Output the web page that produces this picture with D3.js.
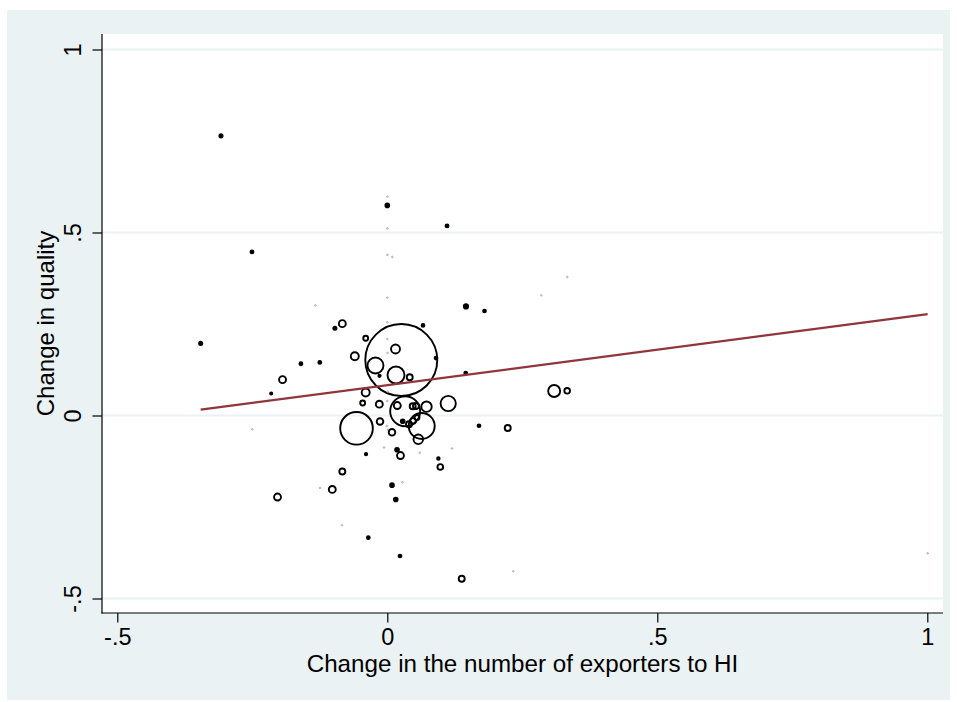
<!DOCTYPE html>
<html>
<head>
<meta charset="utf-8">
<script src="https://cdn.jsdelivr.net/npm/d3@7"></script>
<style>
  html, body { margin: 0; padding: 0; background: #ffffff; }
  svg { display: block; }
  text { font-family: "Liberation Sans", Arial, sans-serif; fill: #000; }
</style>
</head>
<body>
<svg id="chart" width="957" height="702"></svg>
<script>
// ---- data ----
const xValues = [-0.308, -0.2506, -0.3456, -0.160, -0.125, -0.194, -0.215, -0.097, -0.133, -0.250,
  0.000, 0.000, 0.1106, 0.000, 0.000, 0.0093, 0.000, 0.1457, 0.180, 0.000,
  -0.0833, 0.0661, -0.040, 0.000, 0.0259, 0.0152, -0.0602, 0.0004, -0.0219, 0.0161,
  0.0415, -0.0144, 0.0902, 0.1452, -0.040, 0.0007, -0.0456, -0.0148, 0.0331, 0.0185,
  0.047, 0.0531, 0.0726, 0.1128, -0.057, -0.0135, 0.0285, 0.0637, 0.0402, 0.0476,
  0.055, -0.0011, 0.0013, 0.0087, 0.0574, 0.1698, -0.0061, -0.0394, 0.018, 0.0244,
  0.0602, 0.0946, 0.0981, 0.1198, -0.0833, 0.0087, 0.0278, -0.1019, 0.0157, -0.0839,
  -0.0352, 0.0235, 0.1378, 0.2333, 0.2852, 0.3333, 0.309, 0.3331, 0.223, 1.0007,
  -0.2033, -0.1246, 0.000];
const yValues = [0.764, 0.447, 0.197, 0.1415, 0.145, 0.098, 0.060, 0.2385, 0.301, -0.038,
  0.598, 0.574, 0.518, 0.511, 0.439, 0.433, 0.322, 0.298, 0.2855, 0.2546,
  0.251, 0.246, 0.211, 0.209, 0.1516, 0.1817, 0.162, 0.171, 0.1366, 0.1107,
  0.1046, 0.1085, 0.157, 0.116, 0.0628, 0.065, 0.0342, 0.0309, 0.0117, 0.0273,
  0.0251, 0.026, 0.024, 0.0328, -0.035, -0.0164, -0.0156, -0.0287, -0.024, -0.015,
  -0.0055, -0.0287, -0.0388, -0.0459, -0.065, -0.028, -0.0874, -0.1057, -0.0937, -0.1093,
  -0.1019, -0.1175, -0.1407, -0.0902, -0.153, -0.1904, -0.1825, -0.202, -0.2295, -0.300,
  -0.3339, -0.3839, -0.4459, -0.4257, 0.3284, 0.3784, 0.0669, 0.0675, -0.0342, -0.3765,
  -0.2227, -0.198, 0.0396];
const weights = [2.5, 2.3, 2.5, 2.2, 2.2, 12, 1.2, 2.5, 0.5, 0.5,
  0.5, 3.5, 2.2, 0.5, 0.5, 0.5, 0.5, 4.5, 2, 0.5,
  12, 2, 6, 0.5, 1296, 20, 16, 0.5, 64, 72,
  9, 1.4, 2, 2, 16, 0.5, 6, 12, 225, 12,
  9, 9, 27, 58, 266, 11, 3.5, 169, 9, 8,
  6, 0.5, 0.5, 11, 23, 2, 0.5, 1.4, 3.5, 12,
  0.5, 1.6, 8, 0.5, 9, 3.5, 0.7, 12, 3.5, 0.5,
  2, 2, 9, 0.5, 0.7, 0.5, 36, 8, 9, 0.5,
  12, 0.7, 0.5];
const fitIntercept = 0.0829;
const fitSlope = 0.194;
const xTicks = [-0.5, 0, 0.5, 1];
const xTickLabels = ["-.5", "0", ".5", "1"];
const yTicks = [-0.5, 0, 0.5, 1];
const yTickLabels = ["-.5", "0", ".5", "1"];
const xTitle = "Change in the number of exporters to HI";
const yTitle = "Change in quality";

// ---- layout ----
const plot = { left: 102, top: 34, right: 943, bottom: 613 };
const svg = d3.select("#chart");

svg.append("rect").attr("x", 7).attr("y", 10).attr("width", 943).attr("height", 690)
  .attr("fill", "#eaf2f3");
svg.append("rect").attr("x", plot.left).attr("y", plot.top)
  .attr("width", plot.right - plot.left).attr("height", plot.bottom - plot.top)
  .attr("fill", "#ffffff");

const x = d3.scaleLinear().domain([-0.5, 1]).range([117.3, 927.3]);
const y = d3.scaleLinear().domain([-0.5, 1]).range([598.5, 49.5]);
const r = d3.scaleSqrt().domain([0, 1296]).range([0, 36]);

// gridlines
svg.append("g").selectAll("line").data(yTicks).join("line")
  .attr("x1", plot.left).attr("x2", plot.right)
  .attr("y1", d => y(d)).attr("y2", d => y(d))
  .attr("stroke", "#eaf2f3").attr("stroke-width", 1.8);

// points
const pts = xValues.map((v, i) => ({ x: v, y: yValues[i], w: weights[i] }));
svg.append("clipPath").attr("id", "pclip").append("rect")
  .attr("x", plot.left).attr("y", plot.top)
  .attr("width", plot.right - plot.left).attr("height", plot.bottom - plot.top);
svg.append("g").attr("clip-path", "url(#pclip)")
  .selectAll("circle").data(pts).join("circle")
  .attr("cx", d => x(d.x)).attr("cy", d => y(d.y))
  .attr("r", d => d.w < 1 ? 0.8 : r(d.w))
  .attr("fill", d => (d.w >= 1 && r(d.w) < 2.3) ? "#000" : "none")
  .attr("stroke", d => d.w < 1 ? "#9a9a9a" : "#000")
  .attr("stroke-width", d => d.w < 1 ? 0.8 : 1.9);

// fitted line
const xExt = d3.extent(xValues);
svg.append("line")
  .attr("x1", x(xExt[0])).attr("y1", y(fitIntercept + fitSlope * xExt[0]))
  .attr("x2", x(xExt[1])).attr("y2", y(fitIntercept + fitSlope * xExt[1]))
  .attr("stroke", "#90353b").attr("stroke-width", 2.2);

// axes
const xAxis = d3.axisBottom(x).tickValues(xTicks).tickFormat((d, i) => xTickLabels[i])
  .tickSize(9.5).tickSizeOuter(0);
const gx = svg.append("g").attr("transform", `translate(0,${plot.bottom})`).call(xAxis);
gx.select(".domain").remove();
gx.selectAll(".tick line").attr("stroke", "#000").attr("stroke-width", 1.2);
gx.selectAll(".tick text").attr("y", 0).attr("dy", 0)
  .attr("transform", "translate(0,32)")
  .style("font-size", "23.5px").style("font-family", "Liberation Sans, Arial, sans-serif")
  .attr("fill", "#000");

const yAxis = d3.axisLeft(y).tickValues(yTicks).tickFormat((d, i) => yTickLabels[i])
  .tickSize(9.5).tickSizeOuter(0);
const gy = svg.append("g").attr("transform", `translate(${plot.left},0)`).call(yAxis);
gy.select(".domain").remove();
gy.selectAll(".tick line").attr("stroke", "#000").attr("stroke-width", 1.2);
gy.selectAll(".tick text").attr("x", 0).attr("dy", 0)
  .attr("transform", "translate(-21,0) rotate(-90)")
  .attr("text-anchor", "middle")
  .style("font-size", "23.5px").style("font-family", "Liberation Sans, Arial, sans-serif")
  .attr("fill", "#000");

// axis lines
svg.append("line").attr("x1", plot.left).attr("x2", plot.left)
  .attr("y1", plot.top).attr("y2", plot.bottom + 0.6)
  .attr("stroke", "#000").attr("stroke-width", 1.2);
svg.append("line").attr("x1", plot.left - 0.6).attr("x2", plot.right)
  .attr("y1", plot.bottom).attr("y2", plot.bottom)
  .attr("stroke", "#000").attr("stroke-width", 1.2);

// titles
svg.append("text").attr("x", (plot.left + plot.right) / 2).attr("y", 672)
  .attr("text-anchor", "middle").style("font-size", "24.2px").text(xTitle);
svg.append("text")
  .attr("transform", `translate(54,${(plot.top + plot.bottom) / 2}) rotate(-90)`)
  .attr("text-anchor", "middle").style("font-size", "24px").text(yTitle);
</script>
</body>
</html>
